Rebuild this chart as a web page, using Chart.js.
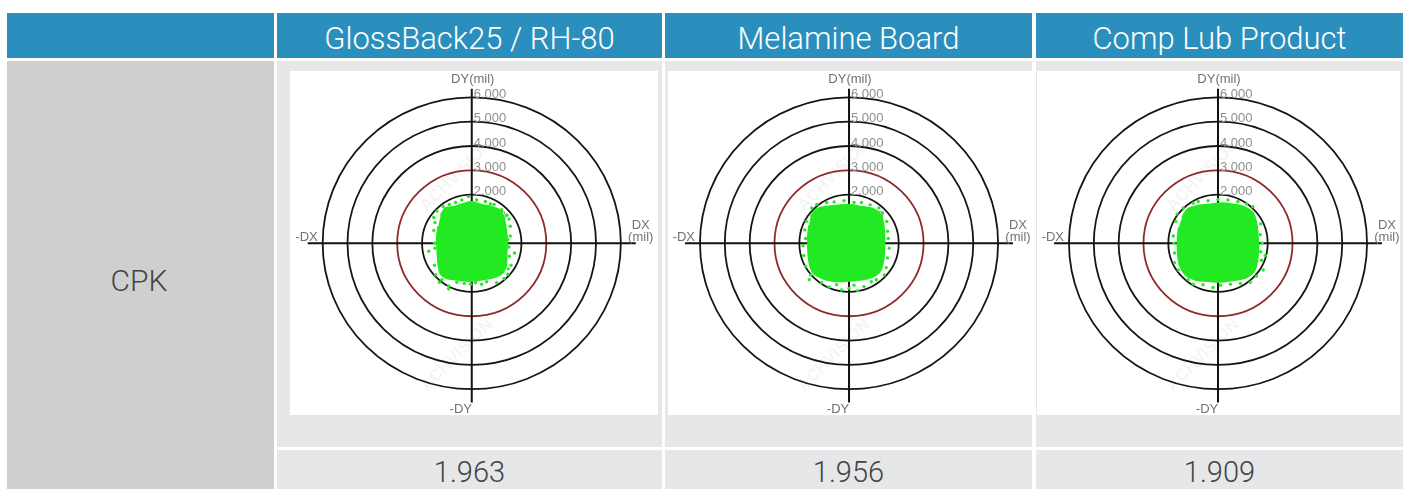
<!DOCTYPE html>
<html><head><meta charset="utf-8">
<script src="https://cdn.jsdelivr.net/npm/chart.js@4/dist/chart.umd.min.js"></script>
<style>
html,body{margin:0;padding:0;background:#fff}
body{width:1403px;height:489px;position:relative;overflow:hidden;font-family:Roboto,"Liberation Sans",sans-serif}
.b{position:absolute;box-sizing:border-box}
.hd{background:#2b8fbd;color:#fff;font-size:31px;display:flex;align-items:center;justify-content:center;font-weight:300;padding-top:5px}
.lg{background:#e6e7e9}
.gr{background:#cfcfcf;color:#444;font-size:30px;display:flex;align-items:center;justify-content:center;font-weight:300;padding-top:10px;padding-right:3px}
.val{background:#e6e7e9;color:#444;font-size:29px;display:flex;align-items:center;justify-content:center;font-weight:300;padding-top:5px}
.wh{background:#fff}
canvas{position:absolute}
</style></head>
<body>
<script>
// ---------- data ----------
const categories = ['GlossBack25 / RH-80', 'Melamine Board', 'Comp Lub Product'];
const rowLabel = 'CPK';
const cpkValues = ['1.963', '1.956', '1.909'];
const ringRadii = [1, 2, 3, 4, 5, 6];
const specRing = 3;
const tickLabels = ['1.000', '2.000', '3.000', '4.000', '5.000', '6.000'];
const axisLabels = {top: 'DY(mil)', bottom: '-DY', left: '-DX', right: ['DX', '(mil)']};
const watermark = 'ACHVISION';

// dense core outline (mil) and scattered edge points (mil) per panel
const glossCore = [
  {x:-1.25,y:1.15},{x:-1.05,y:1.45},{x:-0.7,y:1.5},{x:-0.35,y:1.62},{x:0.0,y:1.7},{x:0.4,y:1.58},
  {x:0.8,y:1.5},{x:1.15,y:1.35},{x:1.3,y:1.0},{x:1.38,y:0.55},{x:1.42,y:0.1},{x:1.4,y:-0.4},
  {x:1.38,y:-0.9},{x:1.2,y:-1.25},{x:0.8,y:-1.42},{x:0.35,y:-1.5},{x:-0.1,y:-1.55},{x:-0.55,y:-1.5},
  {x:-0.95,y:-1.45},{x:-1.25,y:-1.25},{x:-1.35,y:-0.8},{x:-1.38,y:-0.3},{x:-1.4,y:0.2},{x:-1.35,y:0.7}
];
const glossPoints = [
  {x:-0.13,y:1.92},{x:0.2,y:1.78},{x:-0.9,y:1.6},{x:0.75,y:1.62},{x:1.2,y:1.38},{x:1.5,y:1.0},
  {x:1.55,y:0.3},{x:1.52,y:-0.53},{x:1.72,y:-0.4},{x:1.45,y:-1.27},{x:1.0,y:-1.62},{x:-0.93,y:-1.75},
  {x:-0.6,y:-1.6},{x:-1.48,y:-0.2},{x:-1.53,y:0.53},{x:-1.4,y:1.33},{x:-0.93,y:-1.87},{x:-1.73,y:-0.33},
  {x:-1.53,y:1.06},{x:0.4,y:-1.68},{x:-0.3,y:-1.65},{x:1.3,y:-1.45},{x:1.55,y:0.7},{x:-1.5,y:-0.9},
  {x:-1.45,y:-1.3},{x:0.9,y:1.6},{x:-0.4,y:1.78},{x:1.58,y:-0.9},{x:-1.15,y:1.5},{x:-0.65,y:1.68},
  {x:0.55,y:1.72},{x:1.45,y:0.15},{x:1.5,y:-0.15},{x:1.47,y:-1.05},{x:0.6,y:-1.58},{x:-0.05,y:-1.68},
  {x:-1.2,y:-1.5},{x:-1.5,y:0.0},{x:-1.48,y:0.85},{x:1.42,y:1.15},{x:-1.3,y:-1.6},{x:0.15,y:-1.62}
];
const melamineCore = [
  {x:-1.55,y:1.1},{x:-1.3,y:1.4},{x:-0.9,y:1.5},{x:-0.45,y:1.55},{x:0.0,y:1.58},{x:0.5,y:1.5},
  {x:0.95,y:1.42},{x:1.25,y:1.2},{x:1.38,y:0.8},{x:1.42,y:0.3},{x:1.42,y:-0.2},{x:1.38,y:-0.7},
  {x:1.25,y:-1.15},{x:0.9,y:-1.4},{x:0.4,y:-1.5},{x:-0.1,y:-1.55},{x:-0.6,y:-1.55},{x:-1.05,y:-1.45},
  {x:-1.45,y:-1.2},{x:-1.6,y:-0.75},{x:-1.65,y:-0.2},{x:-1.65,y:0.3},{x:-1.6,y:0.75}
];
const melaminePoints = [
  {x:-1.75,y:0.2},{x:-1.82,y:-0.5},{x:-1.72,y:0.9},{x:-1.5,y:1.45},{x:-0.9,y:1.68},{x:-0.2,y:1.75},
  {x:0.5,y:1.68},{x:1.2,y:1.45},{x:1.52,y:0.9},{x:1.58,y:0.2},{x:1.55,y:-0.6},{x:1.42,y:-1.3},
  {x:0.9,y:-1.58},{x:0.2,y:-1.72},{x:-0.5,y:-1.7},{x:-1.1,y:-1.62},{x:-1.55,y:-1.3},{x:0.0,y:-1.85},
  {x:-0.3,y:-1.92},{x:1.62,y:-0.2},{x:-1.85,y:-0.1},{x:0.6,y:-1.78},{x:-1.3,y:1.6},{x:0.2,y:1.68},
  {x:0.85,y:1.58},{x:1.55,y:0.5},{x:1.5,y:-1.0},{x:1.1,y:-1.5},{x:-0.8,y:-1.8},{x:-1.75,y:-0.95},
  {x:-1.78,y:0.55},{x:-0.6,y:1.7},{x:1.35,y:1.25},{x:-1.6,y:-1.5},{x:0.35,y:-1.95}
];
const compCore = [
  {x:-1.45,y:1.05},{x:-1.2,y:1.42},{x:-0.75,y:1.55},{x:-0.3,y:1.6},{x:0.15,y:1.65},{x:0.6,y:1.6},
  {x:1.05,y:1.5},{x:1.4,y:1.25},{x:1.55,y:0.8},{x:1.6,y:0.3},{x:1.62,y:-0.2},{x:1.58,y:-0.7},
  {x:1.45,y:-1.15},{x:1.1,y:-1.42},{x:0.6,y:-1.52},{x:0.1,y:-1.58},{x:-0.4,y:-1.55},{x:-0.9,y:-1.5},
  {x:-1.3,y:-1.3},{x:-1.55,y:-0.85},{x:-1.62,y:-0.3},{x:-1.62,y:0.2},{x:-1.58,y:0.65}
];
const compPoints = [
  {x:-1.8,y:0.3},{x:-1.75,y:-0.4},{x:-1.7,y:0.9},{x:-1.4,y:1.45},{x:-0.8,y:1.72},{x:0.0,y:1.8},
  {x:0.8,y:1.72},{x:1.4,y:1.5},{x:1.72,y:0.8},{x:1.78,y:0.0},{x:1.75,y:-0.7},{x:1.55,y:-1.35},
  {x:0.9,y:-1.65},{x:0.1,y:-1.72},{x:-0.6,y:-1.7},{x:-1.2,y:-1.5},{x:-1.6,y:-1.1},{x:1.3,y:-1.6},
  {x:-0.2,y:-1.82},{x:1.82,y:-1.1},{x:-1.0,y:1.65},{x:0.4,y:1.78},{x:1.15,y:1.62},{x:1.7,y:0.35},
  {x:1.72,y:-0.35},{x:0.5,y:-1.68},{x:-1.0,y:-1.68},{x:-1.75,y:-0.8},{x:-1.78,y:0.0},{x:-1.65,y:1.2},
  {x:1.9,y:-0.5},{x:-0.4,y:1.75}
];
const panelCores = [glossCore, melamineCore, compCore];
const panelPoints = [glossPoints, melaminePoints, compPoints];

// ---------- layout (pixels) ----------
const headerTop = 13, headerH = 45, bodyTop = 61, bodyBottom = 447, valTop = 450, pageH = 489;
const leftCol = [7, 274];
const cols = [[277, 662], [665, 1032], [1036, 1403]];
const plots = [ {left:290, top:71, w:368, h:344, cx:181.7, cy:172.3},
                {left:668, top:71, w:365, h:344, cx:181.0, cy:172.3},
                {left:1037, top:71, w:363, h:344, cx:181.0, cy:172.3} ];
const pxPerUnitX = 25.4, pxPerUnitY = 24.9;

function box(cls, l, t, w, h, text) {
  const d = document.createElement('div');
  d.className = 'b ' + cls;
  d.style.left = l + 'px'; d.style.top = t + 'px'; d.style.width = w + 'px'; d.style.height = h + 'px';
  if (text !== undefined) d.textContent = text;
  document.body.appendChild(d);
  return d;
}
box('hd', leftCol[0], headerTop, leftCol[1] - leftCol[0], headerH);
cols.forEach((c, i) => {
  box('hd', c[0], headerTop, c[1] - c[0], headerH, categories[i]);
  box('lg', c[0], bodyTop, c[1] - c[0], bodyBottom - bodyTop);
  box('val', c[0], valTop, c[1] - c[0], pageH - valTop, cpkValues[i]);
});
box('gr', leftCol[0], bodyTop, leftCol[1] - leftCol[0], pageH - bodyTop, rowLabel);

const targetPlugin = {
  id: 'target',
  beforeDatasetsDraw(chart) {
    const ctx = chart.ctx, xs = chart.scales.x, ys = chart.scales.y;
    const cx = xs.getPixelForValue(0), cy = ys.getPixelForValue(0);
    ctx.save();
    // faint watermark
    ctx.fillStyle = 'rgba(0,0,0,0.045)';
    ctx.font = 'bold 17px "Liberation Sans", Arial, sans-serif';
    ctx.textAlign = 'center'; ctx.textBaseline = 'middle';
    [[-0.6, 2.8], [-0.6, -4.6]].forEach(p => {
      ctx.save();
      ctx.translate(xs.getPixelForValue(p[0]), ys.getPixelForValue(p[1]));
      ctx.rotate(-Math.PI / 4);
      ctx.fillText(watermark, 0, 0);
      ctx.restore();
    });
    // rings
    ringRadii.forEach(r => {
      const rx = xs.getPixelForValue(r) - cx, ry = cy - ys.getPixelForValue(r);
      ctx.beginPath();
      ctx.ellipse(cx, cy, rx, ry, 0, 0, Math.PI * 2);
      ctx.strokeStyle = r === specRing ? '#8e2a2a' : '#151515';
      ctx.lineWidth = 1.8;
      ctx.stroke();
    });
    // axes
    ctx.strokeStyle = '#111';
    ctx.lineWidth = 2;
    ctx.beginPath();
    ctx.moveTo(xs.getPixelForValue(-6.6), cy); ctx.lineTo(xs.getPixelForValue(6.6), cy);
    ctx.moveTo(cx, ys.getPixelForValue(6.35)); ctx.lineTo(cx, ys.getPixelForValue(-6.55));
    ctx.stroke();
    // tick labels
    ctx.fillStyle = '#8f8f8f';
    ctx.font = '13px "Liberation Sans", Arial, sans-serif';
    ctx.textAlign = 'left'; ctx.textBaseline = 'middle';
    ringRadii.forEach((r, i) => {
      ctx.fillText(tickLabels[i], cx + 2, ys.getPixelForValue(r) - 3);
    });
    // axis titles
    ctx.fillStyle = '#727272';
    ctx.font = '13px "Liberation Sans", Arial, sans-serif';
    ctx.textAlign = 'center';
    ctx.fillText(axisLabels.top, cx + 1, ys.getPixelForValue(6.6) - 3);
    ctx.fillText(axisLabels.bottom, cx - 11, ys.getPixelForValue(-6.72) + 3);
    ctx.fillText(axisLabels.left, xs.getPixelForValue(-6.65), cy - 6);
    ctx.fillText(axisLabels.right[0], xs.getPixelForValue(6.8), cy - 18);
    ctx.fillText(axisLabels.right[1], xs.getPixelForValue(6.8), cy - 6);
    ctx.restore();
  }
};

plots.forEach((p, i) => {
  box('wh', p.left, p.top, p.w, p.h);
  const cv = document.createElement('canvas');
  cv.width = p.w; cv.height = p.h;
  cv.style.left = p.left + 'px'; cv.style.top = p.top + 'px';
  cv.style.width = p.w + 'px'; cv.style.height = p.h + 'px';
  document.body.appendChild(cv);
  const green = 'rgb(34,234,34)';
  new Chart(cv, {
    type: 'scatter',
    data: { datasets: [
      { data: panelCores[i], showLine: true, fill: 'shape', backgroundColor: green, borderColor: green,
        borderWidth: 2, pointRadius: 0, tension: 0.3 },
      { data: panelPoints[i], backgroundColor: green, borderWidth: 0, pointRadius: 1.7 }
    ]},
    options: {
      responsive: false, animation: false, events: [],
      layout: { padding: 0 },
      plugins: { legend: { display: false }, tooltip: { enabled: false } },
      scales: {
        x: { type: 'linear', display: false, min: -p.cx / pxPerUnitX, max: (p.w - p.cx) / pxPerUnitX },
        y: { type: 'linear', display: false, min: -(p.h - p.cy) / pxPerUnitY, max: p.cy / pxPerUnitY }
      }
    },
    plugins: [targetPlugin]
  });
});
</script>
</body></html>
